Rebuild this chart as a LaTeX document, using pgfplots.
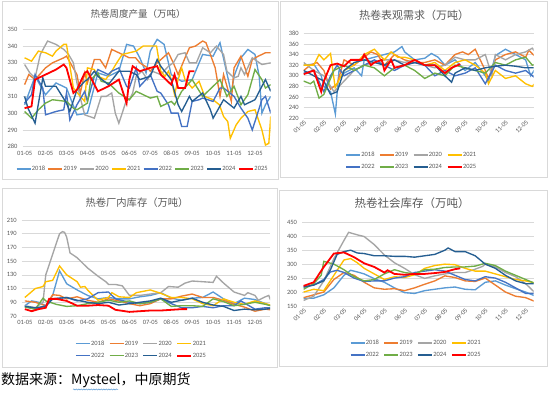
\documentclass[border=0pt]{standalone}
\usepackage{pgfplots}
\pgfplotsset{compat=1.18}
\usepackage{fontspec}
\setmainfont{Carlito}
\newfontfamily\cjk{Noto Sans CJK SC}
\usetikzlibrary{decorations.pathmorphing}
\definecolor{c2018}{HTML}{5B9BD5}
\definecolor{c2019}{HTML}{ED7D31}
\definecolor{c2020}{HTML}{A5A5A5}
\definecolor{c2021}{HTML}{FFC000}
\definecolor{c2022}{HTML}{4472C4}
\definecolor{c2023}{HTML}{70AD47}
\definecolor{c2024}{HTML}{255E91}
\definecolor{c2025}{HTML}{FF0000}
\definecolor{gridc}{HTML}{D9D9D9}
\definecolor{framec}{HTML}{D9D9D9}
\definecolor{txtc}{HTML}{595959}
\pgfplotsset{
  panel/.style={
    scale only axis,
    axis line style={draw=none},
    ymajorgrids,
    grid style={draw=gridc, line width=0.6pt},
    major tick length=0pt,
    tick style={draw=none},
    /pgf/number format/assume math mode=true,
    tick label style={font=\fontsize{6.5}{7}\selectfont, text=txtc},
    xtick={0,1,2,3,4,5,6,7,8,9,10,11},
    xticklabels={01-05,02-05,03-05,04-05,05-05,06-05,07-05,08-05,09-05,10-05,11-05,12-05},
    yticklabel style={xshift=-1.5pt},
    legend cell align=left,
    legend image code/.code={\draw[##1] (0pt,0pt) -- (14pt,0pt);},
    legend style={draw=none, fill=none, font=\fontsize{6.5}{7}\selectfont, text=txtc,
      nodes={inner sep=0.6pt}, /tikz/every even column/.append style={column sep=2pt},
      /tikz/row sep=4pt},
  },
  s18/.style={draw=c2018, line width=1.35pt},
  s19/.style={draw=c2019, line width=1.35pt},
  s20/.style={draw=c2020, line width=1.35pt},
  s21/.style={draw=c2021, line width=1.35pt},
  s22/.style={draw=c2022, line width=1.35pt},
  s23/.style={draw=c2023, line width=1.35pt},
  s24/.style={draw=c2024, line width=1.35pt},
  s25/.style={draw=c2025, line width=1.8pt},
}
\begin{document}
\begin{tikzpicture}[x=1pt,y=1pt]
\path[use as bounding box, fill=white] (0,0) rectangle (554,395);
% frames
\draw[framec, line width=0.8pt] (2.5,394) rectangle (278,216);
\draw[framec, line width=0.8pt] (280.5,394) rectangle (547,217.3);
\draw[framec, line width=0.8pt] (2.5,206.7) rectangle (277.3,28);
\draw[framec, line width=0.8pt] (279,205) rectangle (547,29);

% ---------------- Panel 1: production
\begin{axis}[panel, at={(22.5pt,248.3pt)}, anchor=south west,
  width=248.2pt, height=117.4pt, xmin=-0.1, xmax=11.75, ymin=280, ymax=350,
  ytick={280,290,300,310,320,330,340,350},
  xticklabel style={yshift=-1pt},
  legend columns=8,
  legend style={at={(0.482,-0.19)}, anchor=center}]
\addplot[s18] coordinates {(0,305)(0.5,322)(1,311)(1.5,318)(2,315)(2.5,299)(3,300)(3.5,324)(4,322)(4.5,325)(4.87,341)(5.2,340)(5.5,333)(5.8,324)(6,337)(6.33,344)(6.66,341)(7,323)(7.5,319)(8,320)(8.5,335)(9,334)(9.33,342)(9.87,312)(10,322)(10.33,333)(10.66,338)(11,335)(11.2,322)(11.33,300)(11.5,305)(11.75,310)};
\addplot[s19] coordinates {(0,317)(0.2,323)(0.5,320)(1,327)(1.33,330)(1.87,333)(2,334)(2.5,323)(2.66,312)(2.87,324)(3,318)(3.33,332)(3.6,332)(3.87,327)(4.16,338)(4.5,336)(5,333)(5.3,333)(5.5,330)(5.87,327)(6,325)(6.33,330)(6.6,333)(6.87,336)(7.1,330)(7.33,323)(7.66,333)(7.87,339)(8.16,340)(8.5,343)(8.66,342)(8.87,335)(9.1,327)(9.33,310)(9.5,323)(9.87,307)(10,327)(10.33,334)(10.66,322)(10.87,332)(11.16,334)(11.5,336)(11.75,336)};
\addplot[s20] coordinates {(0,329)(0.25,324)(0.5,321)(0.75,335)(1.1,343)(1.5,341)(1.87,338)(2.1,335)(2.33,330)(2.5,318)(2.66,309)(2.87,299)(3.33,297)(3.66,310)(3.9,310)(4.16,312)(4.33,300)(4.5,294)(4.87,308)(5,308)(5.16,312)(5.33,322)(5.6,325)(5.87,320)(6.1,325)(6.5,323)(6.87,328)(7.1,330)(7.33,335)(7.66,336)(7.87,330)(8.2,330)(8.5,339)(8.87,336)(9.16,340)(9.5,335)(9.66,325)(10,321)(10.2,322)(10.33,327)(10.5,323)(10.87,333)(11.33,329)(11.75,330)};
\addplot[s21] coordinates {(0,333)(0.33,331)(0.66,337)(1,336)(1.33,334)(1.5,337)(1.87,341)(2,341)(2.33,315)(2.66,310)(2.87,307)(3,327)(3.33,326)(3.5,322)(3.87,320)(4.16,325)(4.4,330)(4.66,335)(5,336)(5.33,337)(5.66,340)(6,340)(6.3,340)(6.5,325)(6.7,322)(6.87,325)(7,320)(7.16,311)(7.33,320)(7.5,327)(7.66,320)(8,315)(8.33,319)(8.6,310)(9,308)(9.3,305)(9.5,298)(9.7,295)(9.82,285)(10.1,293)(10.33,297)(10.66,301)(11,302)(11.33,290)(11.5,281)(11.66,282)(11.75,298)};
\addplot[s22] coordinates {(0,306)(0.33,311)(0.5,323)(0.87,315)(1,299)(1.5,301)(1.87,302)(2,312)(2.16,296)(2.5,305)(2.87,313)(3,307)(3.33,322)(3.5,326)(4,323)(4.16,325)(4.5,327)(4.87,316)(5,315)(5.33,327)(5.5,316)(5.87,321)(6,323)(6.33,313)(6.5,312)(6.87,305)(7,300)(7.33,300)(7.5,292)(7.76,292)(8,307)(8.33,308)(8.5,309)(9,307)(9.33,315)(9.5,315)(10,310)(10.33,303)(10.66,297)(10.87,290)(11,295)(11.33,308)(11.5,310)(11.75,300)};
\addplot[s23] coordinates {(0,301)(0.33,297)(0.66,302)(1,306)(1.33,308)(2,307)(2.33,303)(2.5,302)(3,306)(3.16,320)(3.5,324)(3.66,319)(4,318)(4.5,312)(5,308)(5.33,313)(5.5,312)(6,309)(6.33,310)(6.5,304)(7,307)(7.16,305)(7.5,313)(8,320)(8.5,310)(9,316)(9.33,320)(9.66,310)(10,316)(10.33,305)(10.66,311)(11,326)(11.33,320)(11.5,315)(11.75,317)};
\addplot[s24] coordinates {(0,310)(0.16,303)(0.5,294)(0.87,321)(1,316)(1.5,316)(2,306)(2.16,301)(2.5,314)(2.87,319)(3,320)(3.33,325)(3.5,322)(4,317)(4.5,325)(5,325)(5.33,323)(5.5,320)(6,322)(6.33,332)(6.5,328)(7,320)(7.33,305)(7.5,301)(7.87,310)(8,307)(8.5,312)(8.87,302)(9,297)(9.5,308)(10,303)(10.33,310)(10.5,305)(11,308)(11.33,316)(11.5,320)(11.75,313)};
\addplot[s25] coordinates {(0,303)(0.33,304)(0.5,320)(1,323)(1.5,326)(1.87,329)(2,327)(2.33,312)(2.5,314)(2.87,324)(3,325)(3.5,313)(4,316)(4.5,320)(4.87,306)(5,320)(5.16,328)(5.5,325)(6,327)(6.33,328)(6.5,323)(7,317)(7.16,323)(7.33,315)(7.66,315)(7.87,325)(8.1,325)};
\legend{2018,2019,2020,2021,2022,2023,2024,2025}
\end{axis}

% ---------------- Panel 2: apparent demand
\begin{axis}[panel, at={(303.7pt,276.7pt)}, anchor=south west,
  width=230pt, height=85pt, xmin=0, xmax=11.4, ymin=220, ymax=380,
  ytick={220,240,260,280,300,320,340,360,380},
  xticklabel style={rotate=45, anchor=north east, inner sep=1pt},
  legend columns=4,
  legend style={at={(0.467,-0.50)}, anchor=center, /tikz/every even column/.append style={column sep=4pt}, /tikz/row sep=5pt}]
\addplot[s18] coordinates {(0,320)(0.5,322)(0.87,300)(1,280)(1.33,270)(1.57,228)(1.75,310)(2,305)(2.5,315)(2.87,300)(3,330)(3.5,335)(4,340)(4.5,345)(4.87,355)(5,345)(5.5,330)(6,333)(6.33,342)(6.66,335)(7,320)(7.5,330)(8,310)(8.5,325)(9,300)(9.16,290)(9.5,338)(10,350)(10.5,340)(11,330)(11.25,300)(11.5,315)};
\addplot[s19] coordinates {(0,310)(0.33,320)(0.66,325)(1,310)(1.33,275)(1.66,285)(2,330)(2.5,320)(3,335)(3.33,345)(3.66,340)(4,320)(4.5,340)(5,330)(5.5,325)(6,325)(6.5,330)(7,320)(7.5,340)(7.87,345)(8.16,340)(8.5,350)(9,310)(9.16,295)(9.5,330)(10,340)(10.5,345)(11,335)(11.16,348)(11.5,335)(11.75,330)};
\addplot[s20] coordinates {(0,325)(0.5,310)(1,300)(1.5,270)(2,290)(2.5,310)(3,320)(3.5,325)(4,330)(4.5,330)(5,325)(5.5,330)(6,320)(6.5,315)(7,320)(7.5,335)(8,330)(8.5,330)(9,340)(9.33,300)(9.5,340)(10,330)(10.5,340)(11,345)(11.33,352)(11.75,330)};
\addplot[s21] coordinates {(0,320)(0.5,320)(0.76,340)(1,330)(1.33,342)(1.56,278)(2,310)(2.5,320)(3,340)(3.5,350)(4,330)(4.33,345)(4.66,335)(5,335)(5.5,330)(6,320)(6.5,325)(7,310)(7.5,325)(8,330)(8.5,320)(9,305)(9.16,285)(9.5,310)(10,295)(10.5,300)(11,285)(11.33,280)(11.75,300)};
\addplot[s22] coordinates {(0,305)(0.5,310)(1,270)(1.33,300)(1.66,320)(2,300)(2.5,310)(3,320)(3.5,330)(4,320)(4.5,310)(5,320)(5.5,325)(6,320)(6.5,300)(7,310)(7.5,300)(8,305)(8.5,315)(9,285)(9.5,320)(10,310)(10.5,305)(11,310)(11.5,295)(11.75,305)};
\addplot[s23] coordinates {(0,290)(0.33,285)(0.5,290)(0.76,258)(1,265)(1.5,310)(2,320)(2.5,310)(3,320)(3.5,315)(4,300)(4.5,315)(5,320)(5.5,310)(6,295)(6.5,305)(7,300)(7.5,320)(8,315)(8.5,310)(9,305)(9.5,325)(10,320)(10.5,330)(11,335)(11.33,320)(11.75,325)};
\addplot[s24] coordinates {(0,310)(0.5,300)(1,290)(1.33,265)(1.66,270)(2,310)(2.5,325)(3,330)(3.5,325)(4,320)(4.5,330)(5,320)(5.5,325)(6,320)(6.5,320)(7,300)(7.33,288)(7.5,305)(8,315)(8.5,310)(9,315)(9.5,318)(10,320)(10.5,318)(11,315)(11.5,315)(11.75,310)};
\addplot[s25] coordinates {(0,303)(0.5,310)(0.87,270)(1,290)(1.33,320)(1.66,323)(2,318)(2.33,330)(2.87,330)(3,340)(3.33,320)(3.5,325)(3.87,330)(4,310)(4.33,330)(4.5,315)(5,320)(5.5,330)(6,320)(6.5,320)(7,305)(7.33,315)(7.76,322)};
\legend{2018,2019,2020,2021,2022,2023,2024,2025}
\end{axis}

% ---------------- Panel 3: mill inventory
\begin{axis}[panel, at={(21.7pt,79pt)}, anchor=south west,
  width=248.3pt, height=96pt, xmin=-0.15, xmax=11.72, ymin=70, ymax=210,
  ytick={70,90,110,130,150,170,190,210},
  xticklabel style={yshift=-1pt},
  legend columns=4,
  legend style={at={(0.48,-0.351)}, anchor=center, /tikz/every even column/.append style={column sep=4pt}, /tikz/row sep=5pt}]
\addplot[s18] coordinates {(0,85)(0.33,92)(0.66,90)(1,85)(1.33,100)(1.66,136)(2,117)(2.5,108)(3,100)(3.5,95)(4,97)(4.5,95)(5,95)(5.5,98)(6,100)(6.5,104)(7,96)(7.5,93)(8,96)(8.5,97)(9,105)(9.5,95)(10,88)(10.5,96)(11,94)(11.5,88)(11.75,85)};
\addplot[s19] coordinates {(0,92)(0.5,90)(1,85)(1.33,101)(1.66,100)(2,95)(2.5,98)(3,93)(3.5,90)(4,95)(4.5,92)(5,88)(5.5,85)(6,88)(6.5,95)(7,95)(7.5,99)(8,102)(8.5,97)(9,97)(9.5,93)(10,87)(10.5,83)(11,77)(11.5,80)(11.75,79)};
\addplot[s20] coordinates {(0,85)(0.5,82)(0.87,90)(1,130)(1.33,160)(1.66,190)(1.8,193)(1.9,192)(2,185)(2.16,162)(2.5,155)(3,140)(3.5,128)(3.87,120)(4,116)(4.33,116)(4.66,114)(5,100)(5.5,100)(6,102)(6.5,104)(6.87,113)(7.33,112)(7.66,118)(8,121)(8.5,120)(9,119)(9.16,128)(9.5,118)(10,105)(10.5,100)(10.66,104)(11,100)(11.16,93)(11.5,98)(11.66,100)(11.75,93)};
\addplot[s21] coordinates {(0,97)(0.5,110)(0.87,113)(1,120)(1.33,122)(1.66,143)(2,130)(2.5,120)(2.66,112)(2.87,113)(3,108)(3.33,98)(3.5,93)(4,97)(4.16,104)(4.5,98)(5,97)(5.33,104)(6,108)(6.5,103)(7,97)(7.5,97)(8,95)(8.5,88)(9,85)(9.5,95)(10,90)(10.5,87)(11,92)(11.5,88)(11.75,86)};
\addplot[s22] coordinates {(0,84)(0.5,80)(1,85)(1.33,95)(2,97)(2.5,92)(3,95)(3.5,104)(4,105)(4.33,95)(5,90)(5.5,88)(6,90)(6.5,95)(7,88)(7.5,82)(8,82)(8.5,84)(9,82)(9.5,85)(10,85)(10.33,92)(10.66,86)(11,80)(11.5,82)(11.75,82)};
\addplot[s23] coordinates {(0,83)(0.5,80)(0.87,96)(1,92)(1.5,87)(2,84)(2.5,85)(3,88)(3.5,90)(4,93)(4.5,90)(5,92)(5.5,88)(6,90)(6.5,95)(7,84)(7.5,85)(8,85)(8.5,84)(9,95)(9.5,91)(10,85)(10.5,87)(11,90)(11.5,87)(11.75,85)};
\addplot[s24] coordinates {(0,84)(0.5,82)(1,84)(1.33,95)(2,97)(2.5,93)(3,90)(3.5,88)(4,90)(4.5,86)(5,88)(5.5,90)(6,92)(6.5,96)(7,90)(7.5,93)(8,96)(8.5,90)(9,86)(9.5,84)(10,78)(10.5,80)(11,79)(11.5,80)(11.75,81)};
\addplot[s25] coordinates {(0,80)(0.33,77)(0.66,80)(1,82)(1.16,95)(1.5,95)(2,92)(2.5,85)(3,85)(3.5,86)(4,85)(4.33,79)(5,76)(5.5,77)(6,78)(6.5,78)(7,79)(7.5,80)(7.76,80)};
\legend{2018,2019,2020,2021,2022,2023,2024,2025}
\end{axis}

% ---------------- Panel 4: social inventory
\begin{axis}[panel, at={(302pt,89pt)}, anchor=south west,
  width=231.7pt, height=83.7pt, xmin=-0.08, xmax=11.4, ymin=150, ymax=450,
  ytick={150,200,250,300,350,400,450},
  xticklabel style={rotate=45, anchor=north east, inner sep=1pt},
  legend columns=4,
  legend style={at={(0.49,-0.514)}, anchor=center, /tikz/every even column/.append style={column sep=4pt}, /tikz/row sep=5pt}]
\addplot[s18] coordinates {(0,178)(0.5,178)(1,190)(1.5,215)(2,260)(2.33,278)(2.66,272)(3,265)(3.5,248)(4,235)(4.5,215)(5,198)(5.5,195)(6,205)(6.5,210)(7,215)(7.5,218)(8,210)(8.5,208)(9,235)(9.5,240)(10,225)(10.5,212)(11,200)(11.5,185)(11.75,175)};
\addplot[s19] coordinates {(0,180)(0.5,190)(1,200)(1.5,245)(2,270)(2.5,260)(3,235)(3.5,215)(4,210)(4.5,212)(5,205)(5.5,215)(6,228)(6.5,240)(7,258)(7.5,252)(8,240)(8.5,238)(9,250)(9.5,225)(10,200)(10.5,185)(11,180)(11.5,165)(11.75,163)};
\addplot[s20] coordinates {(0,170)(0.5,185)(1,240)(1.5,320)(2,385)(2.23,414)(2.66,405)(3,399)(3.5,370)(4,333)(4.5,305)(5,285)(5.5,262)(6,249)(6.5,258)(7,265)(7.5,270)(8,270)(8.5,282)(8.87,292)(9,300)(9.5,290)(10,270)(10.5,255)(11,230)(11.5,195)(11.75,190)};
\addplot[s21] coordinates {(0,200)(0.5,210)(1,205)(1.5,260)(2,315)(2.33,320)(2.66,305)(3,285)(3.5,265)(4,245)(4.5,255)(5,252)(5.5,262)(6,285)(6.5,295)(7,300)(7.5,298)(8,285)(8.5,275)(9,275)(9.5,265)(10,255)(10.5,245)(11,240)(11.5,232)(11.75,225)};
\addplot[s22] coordinates {(0,218)(0.5,225)(1,245)(1.33,272)(1.66,278)(2,270)(2.5,250)(3,238)(3.5,240)(4,240)(4.5,250)(5,255)(5.5,270)(6,275)(6.5,280)(7,275)(7.5,260)(8,245)(8.5,240)(9,255)(9.5,250)(10,235)(10.5,215)(11,195)(11.5,195)(11.75,203)};
\addplot[s23] coordinates {(0,210)(0.5,230)(0.87,260)(1,310)(1.5,300)(2,280)(2.5,255)(3,240)(3.5,245)(4,265)(4.5,280)(5,270)(5.5,265)(6,280)(6.5,282)(7,288)(7.5,290)(8,290)(8.5,293)(9,303)(9.5,295)(10,275)(10.5,260)(11,245)(11.5,230)(11.75,222)};
\addplot[s24] coordinates {(0,218)(0.5,225)(1,240)(1.33,280)(1.66,335)(2,345)(2.33,350)(2.66,340)(3,338)(3.5,330)(4,330)(4.5,328)(5,328)(5.5,325)(6,330)(6.5,335)(7,350)(7.16,358)(7.5,345)(8,345)(8.5,330)(9,300)(9.5,285)(10,260)(10.5,240)(11,230)(11.5,230)(11.75,220)};
\addplot[s25] coordinates {(0,222)(0.5,235)(1,290)(1.5,338)(2,342)(2.5,325)(3,303)(3.5,290)(4,270)(4.16,278)(4.5,265)(5,262)(5.5,265)(6,265)(6.5,268)(7,272)(7.5,282)(7.76,285)};
\legend{2018,2019,2020,2021,2022,2023,2024,2025}
\end{axis}

% titles
\node[font=\cjk\fontsize{9.5}{10}\selectfont, text=txtc] at (138,381.5) {热卷周度产量（万吨）};
\node[font=\cjk\fontsize{11}{12}\selectfont, text=txtc] at (414,380) {热卷表观需求（万吨）};
\node[font=\cjk\fontsize{10.3}{11}\selectfont, text=txtc] at (137,192.3) {热卷厂内库存（万吨）};
\node[font=\cjk\fontsize{11.5}{12}\selectfont, text=txtc] at (412,192) {热卷社会库存（万吨）};
% footer
\node[font=\cjk\fontsize{14}{15}\selectfont, anchor=west, inner sep=0pt] at (1,14.5) {数据来源：Mysteel，中原期货};
\draw[c2018, line width=0.5pt, decorate, decoration={snake, amplitude=0.6pt, segment length=2.5pt}] (73,5.5) -- (118,5.5);
\end{tikzpicture}
\end{document}
